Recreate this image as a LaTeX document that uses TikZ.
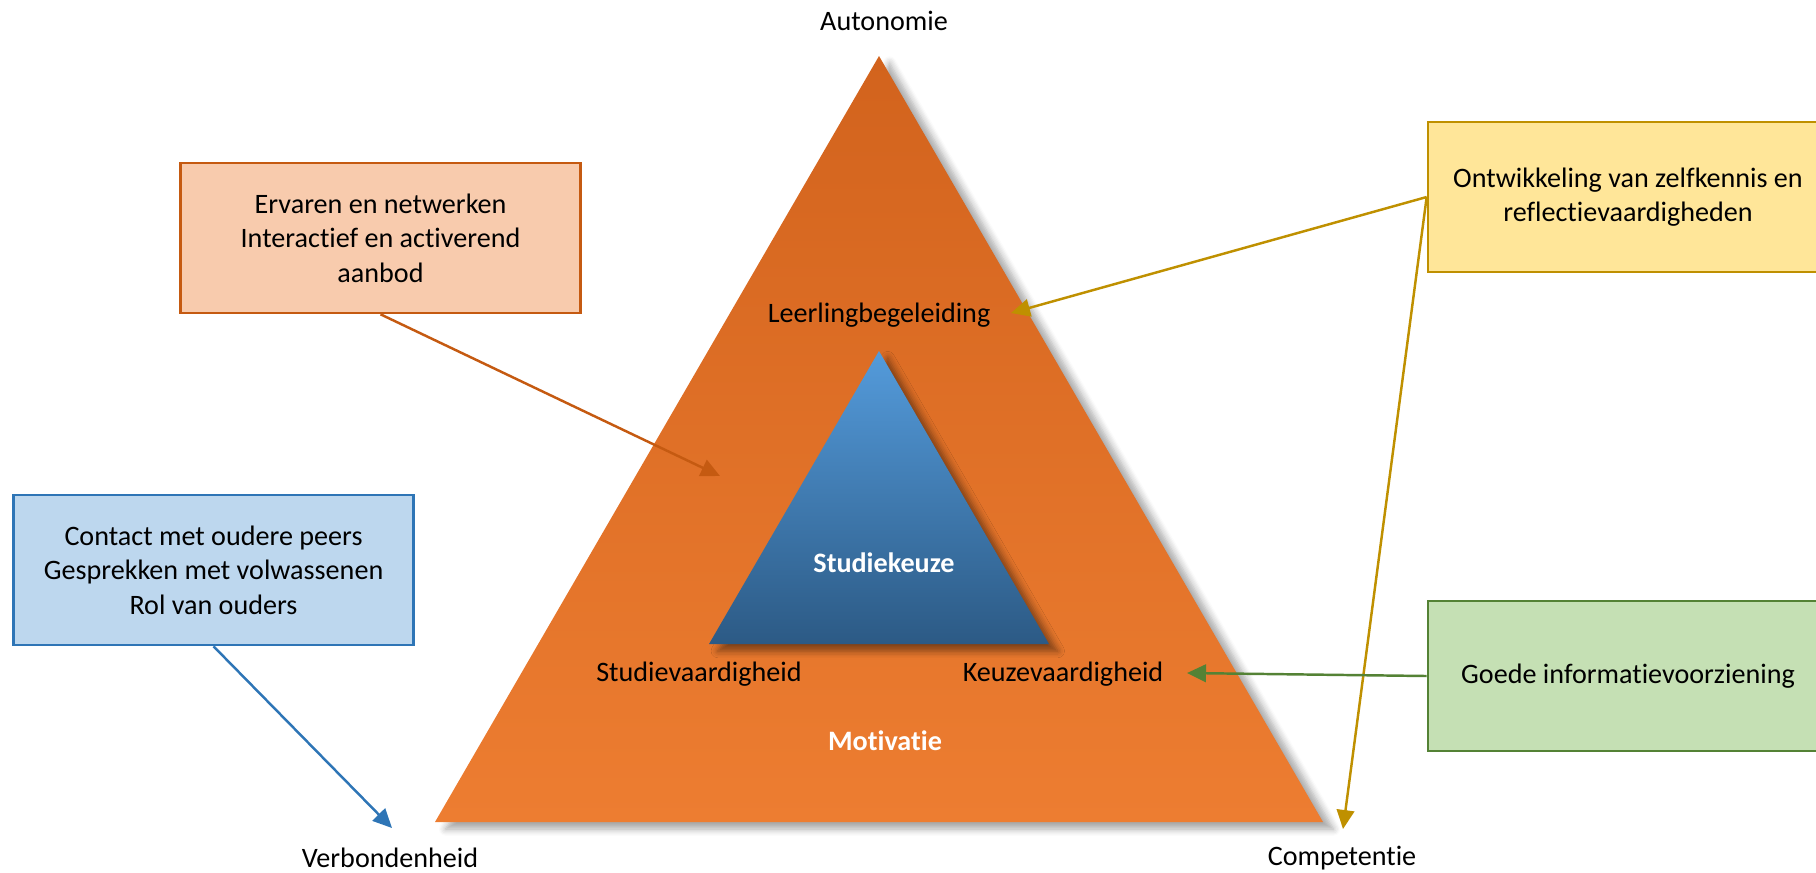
\documentclass[tikz,border=0pt]{standalone}
\usepackage{fontspec}
\setmainfont{Carlito}[Ligatures=NoCommon]
\usetikzlibrary{positioning}
\usetikzlibrary{arrows.meta}
\usetikzlibrary{shadows.blur}
\definecolor{ervarenLine}{HTML}{C55A11}
\definecolor{ervarenFill}{HTML}{F8CBAD}
\definecolor{contactLine}{HTML}{2E75B6}
\definecolor{contactFill}{HTML}{BDD7EE}
\definecolor{zelfLine}{HTML}{BF9000}
\definecolor{zelfFill}{HTML}{FFE699}
\definecolor{infoLine}{HTML}{548235}
\definecolor{infoFill}{HTML}{C5E0B4}
\tikzset{box/.style={rectangle,line width=0.7pt,minimum width=4cm,minimum height=1.5cm,align=center,font=\fontsize{8}{9.8}\selectfont}}
\tikzset{label/.style={font=\fontsize{8}{9.8}\selectfont}}
\tikzset{title/.style={font=\fontsize{8}{9.8}\selectfont\bfseries,text=white}}
\tikzset{link/.style={-{Triangle[length=5.4pt,width=5pt]},line width=0.7pt}}

\begin{document}
\begin{tikzpicture}[x=0.01cm,y=-0.01cm]
  \useasboundingbox (0,0) rectangle (1816,872);
  \clip (0,0) rectangle (1816,872);
  % pyramids
  \shade [top color={rgb,255:red,210;green,99;blue,29},bottom color={rgb,255:red,237;green,125;blue,49},
    blur shadow={shadow xshift=3pt,shadow yshift=-2pt,shadow blur steps=6,shadow opacity=35}]
    (879,56) -- (435,822) -- (1323,822) -- cycle;
  \shade [top color={rgb,255:red,84;green,155;blue,219},bottom color={rgb,255:red,44;green,90;blue,133},
    blur shadow={shadow xshift=2.5pt,shadow yshift=-2pt,shadow blur steps=5,shadow opacity=45}]
    (879,351) -- (709,644) -- (1049,644) -- cycle;

  \node [label] (autonomie) at (884,21) {Autonomie};
  \node [label] (verbonden) at (390,858) {Verbondenheid};
  \node [label] (competentie) at (1342,858) {Competentie};
  \node [label] (leerling) at (879,315) {Leerlingbegeleiding};
  \node [label] (studievh) at (699,674) {Studievaardigheid};
  \node [label] (keuzevh) at (1063,674) {Keuzevaardigheid};
  \node [title] (studiekeuze) at (884,563) {Studiekeuze};
  \node [title] (motivatie) at (885,741) {Motivatie};

  % boxes
  \node [box,draw=ervarenLine,fill=ervarenFill] (ervaren) at (380.5,238) {Ervaren en netwerken\\Interactief en activerend\\aanbod};
  \node [box,draw=contactLine,fill=contactFill] (contact) at (213.5,570) {Contact met oudere peers\\Gesprekken met volwassenen\\Rol van ouders};
  \node [box,draw=zelfLine,fill=zelfFill] (zelf) at (1628,197) {Ontwikkeling van zelfkennis en\\reflectievaardigheden};
  \node [box,draw=infoLine,fill=infoFill] (info) at (1628,676) {Goede informatievoorziening};

  \coordinate (ervarenTip) at (720,476);
  \coordinate (contactTip) at (392,828);
  \coordinate (leerlingTip) at (1011,313);
  \coordinate (competentieTip) at (1343,829);
  \coordinate (keuzeTip) at (1187,673);

  \draw [link,ervarenLine] (ervaren.south) -- (ervarenTip);
  \draw [link,contactLine] (contact.south) -- (contactTip);
  \draw [link,zelfLine] (zelf.west) -- (leerlingTip);
  \draw [link,zelfLine] (zelf.west) -- (competentieTip);
  \draw [link,infoLine] (info.west) -- (keuzeTip);
\end{tikzpicture}
\end{document}
